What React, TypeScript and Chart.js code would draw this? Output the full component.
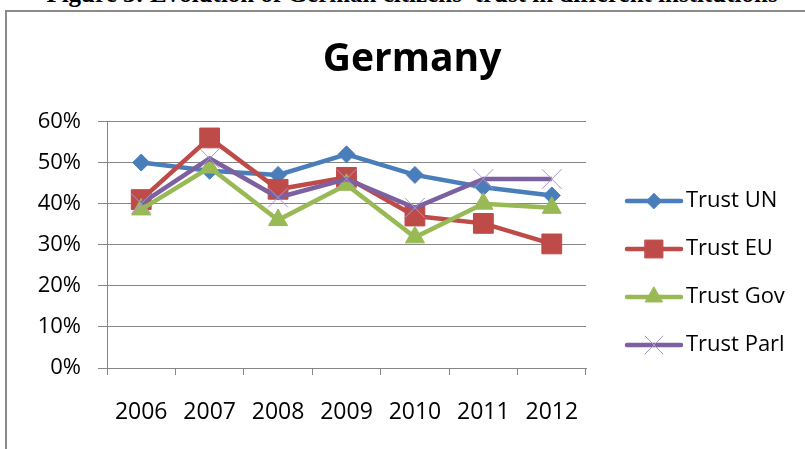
import React, { useEffect, useRef } from "react";
import { Chart, registerables } from "chart.js";
import { drawPoint } from "chart.js/helpers";

Chart.register(...registerables);

const years = ["2006", "2007", "2008", "2009", "2010", "2011", "2012"];
const trustUN = [50, 48, 47, 52, 47, 44, 42];
const trustEU = [41, 56, 43.5, 46.4, 37, 35.2, 30.2];
const trustGov = [38.6, 48.8, 36, 44.6, 31.8, 40, 39];
const trustParl = [40, 51, 41.5, 46, 39, 46, 46];
const seriesNames = ["Trust UN", "Trust EU", "Trust Gov", "Trust Parl"];
const chartTitle = "Germany";
const caption = "Figure 3: Evolution of German citizens\u2019 trust in different institutions";

const FONT = "'Open Sans', 'DejaVu Sans', sans-serif";

const titlePlugin = {
  id: "excelTitle",
  afterDraw(chart: any) {
    const ctx = chart.ctx;
    ctx.save();
    ctx.font = `bold 39px ${FONT}`;
    ctx.fillStyle = "#000";
    ctx.textAlign = "center";
    ctx.textBaseline = "alphabetic";
    ctx.fillText(chartTitle, 412, 71);
    ctx.restore();
  },
};

const legendPlugin = {
  id: "excelLegend",
  afterDraw(chart: any) {
    const ctx = chart.ctx;
    chart.data.datasets.forEach((ds: any, i: number) => {
      const y = 201 + i * 48;
      ctx.save();
      ctx.strokeStyle = ds.borderColor;
      ctx.lineWidth = ds.borderWidth;
      ctx.lineCap = "round";
      ctx.beginPath();
      ctx.moveTo(627, y);
      ctx.lineTo(681, y);
      ctx.stroke();
      ctx.fillStyle = ds.pointBackgroundColor;
      ctx.strokeStyle = ds.pointBorderColor;
      ctx.lineWidth = ds.pointBorderWidth;
      drawPoint(ctx, { pointStyle: ds.pointStyle, radius: ds.pointRadius * 0.9, rotation: 0, borderWidth: ds.pointBorderWidth }, 654, y);
      ctx.font = `22px ${FONT}`;
      ctx.fillStyle = "#000";
      ctx.textAlign = "left";
      ctx.textBaseline = "middle";
      ctx.fillText(ds.label, 686, y);
      ctx.restore();
    });
  },
};

export default function App() {
  const ref = useRef<HTMLCanvasElement>(null);
  useEffect(() => {
    if (!ref.current) return;
    const mk = (label: string, data: number[], color: string, style: string, radius: number, order: number, pointColor?: string) => ({
      label,
      data,
      borderColor: color,
      backgroundColor: color,
      borderWidth: 4.5,
      pointStyle: style,
      pointRadius: radius,
      pointBackgroundColor: pointColor || color,
      pointBorderColor: pointColor || color,
      pointBorderWidth: 1,
      tension: 0,
      order,
    });
    const chart = new Chart(ref.current, {
      type: "line",
      data: {
        labels: years,
        datasets: [
          mk(seriesNames[0], trustUN, "#4A7EBB", "rectRot", 8.5, 4),
          mk(seriesNames[1], trustEU, "#BE4B48", "rect", 14, 3),
          mk(seriesNames[2], trustGov, "#98B954", "triangle", 11, 2),
          mk(seriesNames[3], trustParl, "#7D60A0", "crossRot", 14, 1, "#A896CC"),
        ],
      },
      options: {
        responsive: false,
        animation: false,
        layout: { padding: { left: 0, right: 219, top: 121.5, bottom: 0 } },
        plugins: { legend: { display: false }, title: { display: false }, tooltip: { enabled: false } },
        scales: {
          x: {
            offset: true,
            afterFit: (s: any) => { s.height = 81; },
            grid: { drawOnChartArea: false, drawTicks: true, offset: true, tickLength: 7, color: "#868686" },
            border: { display: true, color: "#868686", width: 1 },
            ticks: { color: "#000", font: { family: FONT, size: 23 }, padding: 24, maxRotation: 0, autoSkip: false },
          },
          y: {
            min: 0,
            max: 60,
            afterFit: (s: any) => { s.width = 107; },
            grid: { color: "#868686", tickLength: 9, drawTicks: true },
            border: { display: true, color: "#868686", width: 1 },
            ticks: { stepSize: 10, color: "#000", font: { family: FONT, size: 22 }, padding: 17, callback: (v: any) => `${v}%` },
          },
        },
      },
      plugins: [titlePlugin, legendPlugin],
    });
    return () => chart.destroy();
  }, []);

  return (
    <div style={{ position: "fixed", left: 0, top: 0, width: 805, height: 449, overflow: "hidden", background: "#fff" }}>
      <div
        style={{
          position: "absolute",
          left: 0,
          width: 824,
          top: -19,
          textAlign: "center",
          fontFamily: "'Liberation Serif', 'Times New Roman', serif",
          fontWeight: "bold",
          fontSize: 25,
          lineHeight: "25px",
          whiteSpace: "nowrap",
          color: "#000",
        }}
      >
        {caption}
      </div>
      <div style={{ position: "absolute", left: 5, top: 10, width: 900, height: 600, border: "2px solid #8a8a8a" }} />
      <canvas ref={ref} width={805} height={449} style={{ position: "absolute", left: 0, top: 0, width: 805, height: 449 }} />
    </div>
  );
}
